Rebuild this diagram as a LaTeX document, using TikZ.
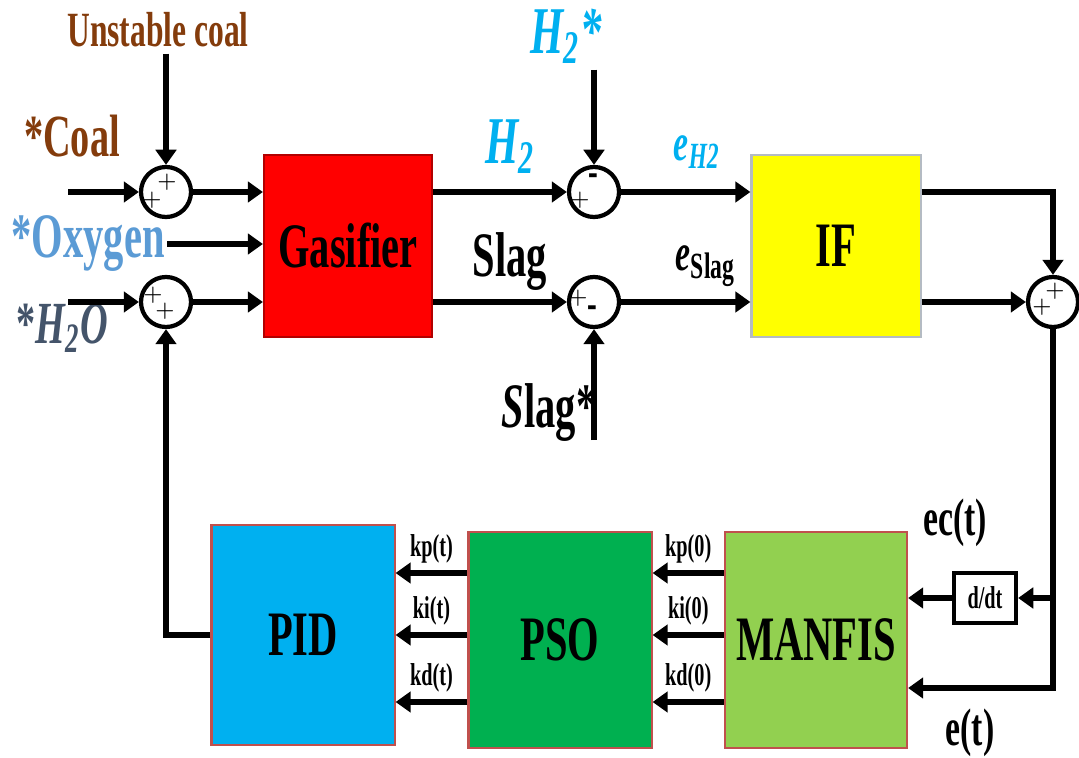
\documentclass[tikz,border=0pt]{standalone}
\usepackage{fontspec}
\setmainfont{Liberation Serif}[FakeStretch=0.64]
\usetikzlibrary{arrows.meta, positioning}
\definecolor{ccoal}{HTML}{843C0C}
\definecolor{coxy}{HTML}{5B9BD5}
\definecolor{cwater}{HTML}{44546A}
\definecolor{chyd}{HTML}{00B0F0}
\definecolor{cred}{HTML}{FF0000}
\definecolor{cyellow}{HTML}{FFFF00}
\definecolor{cpid}{HTML}{00B0F0}
\definecolor{cpso}{HTML}{00B050}
\definecolor{cman}{HTML}{92D050}
\definecolor{cedge}{HTML}{C0504D}
\tikzset{
  every picture/.style={line width=1.6pt},
  block/.style={fill=#1, draw=cedge, line width=0.6pt, inner sep=0pt, font=\fontsize{18}{20}\selectfont\bfseries},
  junc/.style={circle, draw, line width=1.2pt, minimum size=0.5cm, inner sep=0pt},
  sign/.style={inner sep=0pt, font=\fontsize{6.5}{6.5}\selectfont},
  arrow/.style={-{Triangle[length=4.3pt, width=5.8pt]}},
  big/.style={inner sep=1pt, font=\fontsize{18}{20}\selectfont\bfseries},
  klabel/.style={inner sep=2pt, font=\fontsize{9}{10}\selectfont\bfseries},
}
\newcommand{\jsign}[3]{\node[sign] at ([shift={(#1)}]#2.center) {#3};}

\begin{document}
\begin{tikzpicture}[x=0.01cm, y=-0.01cm]
  \useasboundingbox (0,0) rectangle (1079,758);
  \node[block=cred, draw=cred!70!black, minimum width=1.68cm, minimum height=1.82cm] (gas) at (348,246) {Gasifier};
  \node[block=cyellow, draw=cwater!40, minimum width=1.69cm, minimum height=1.82cm] (if) at (836,246) {IF};
  \node[block=cpid, minimum width=1.83cm, minimum height=2.2cm] (pid) at (303,635) {PID};
  \node[block=cpso, minimum width=1.83cm, minimum height=2.15cm] (pso) at (560,640) {PSO};
  \node[block=cman, minimum width=1.82cm, minimum height=2.15cm] (manfis) at (816,640) {MANFIS};
  \node[draw, line width=1.2pt, minimum width=0.62cm, minimum height=0.5cm, inner sep=0pt, font=\fontsize{9}{10}\selectfont\bfseries] (ddt) at (985,598) {d/dt};

  \node[junc] (s1) at (166,192) {};
  \node[junc] (s2) at (166,302) {};
  \node[junc] (s3) at (594,192) {};
  \node[junc] (s4) at (594,302) {};
  \node[junc] (s5) at (1053,302) {};
  \jsign{1,-10}{s1}{$+$} \jsign{-14,8}{s1}{$+$}
  \jsign{-13,-7}{s2}{$+$} \jsign{-1,9}{s2}{$+$}
  \jsign{-1,-12}{s3}{\fontsize{13}{13}\selectfont\bfseries -} \jsign{-14,8}{s3}{$+$}
  \jsign{-16,-4}{s4}{$+$} \jsign{-2,10}{s4}{\fontsize{13}{13}\selectfont\bfseries -}
  \jsign{2,-11}{s5}{$+$} \jsign{-11,5}{s5}{$+$}

  \node[big, font=\fontsize{14}{16}\selectfont\bfseries, text=ccoal] (unst) at (158,30) {Unstable coal};
  \node[big, font=\fontsize{17}{20}\selectfont\bfseries, text=ccoal] at (72,136) {*Coal};
  \node[big, text=coxy, inner sep=0pt] (oxy) at (88,244) {*Oxygen};
  \node[big, font=\fontsize{17}{20}\selectfont\bfseries\itshape, text=cwater] at (62,328) {\upshape*\itshape H\textsubscript{2}O};
  \node[big, font=\fontsize{19}{20}\selectfont\bfseries\itshape, text=chyd] at (510,147) {H\textsubscript{2}};
  \node[big, font=\fontsize{19}{20}\selectfont\bfseries\itshape, text=chyd] (href) at (566,36) {H\textsubscript{2}*};
  \node[big, font=\fontsize{15}{16}\selectfont\bfseries\itshape, text=chyd] at (697,152) {e\textsubscript{H2}};
  \node[big] at (510,262) {Slag};
  \node[big, font=\fontsize{15}{16}\selectfont\bfseries] at (706,266) {\textit{e}\textsubscript{Slag}};
  \node[big] at (549,413) {\textit{S}lag*};
  \node[big, font=\fontsize{15}{16}\selectfont\bfseries] at (955,523) {ec(t)};
  \node[big, font=\fontsize{15}{16}\selectfont\bfseries] at (970,733) {e(t)};

  \coordinate (coalin) at (68,192);
  \coordinate (h2oin) at (68,302);
  \coordinate (slagref) at (594,440);
  \coordinate (ectap) at (1053,598);
  \coordinate (etap) at (1053,688);

  \draw[arrow] (coalin) -- (s1);
  \draw[arrow] (unst.south -| s1) -- (s1);
  \draw[arrow] (s1) -- (s1 -| gas.west);
  \draw[arrow] (oxy.east) -- (oxy.east -| gas.west);
  \draw[arrow] (h2oin) -- (s2);
  \draw[arrow] (s2) -- (s2 -| gas.west);
  \draw[arrow] (pid.west) -| (s2);
  \draw[arrow] (s3 -| gas.east) -- (s3);
  \draw[arrow] (s4 -| gas.east) -- (s4);
  \draw[arrow] (href.south -| s3) -- (s3);
  \draw[arrow] (slagref) -- (s4);
  \draw[arrow] (s3) -- (s3 -| if.west);
  \draw[arrow] (s4) -- (s4 -| if.west);
  \draw[arrow] (if.east |- s3) -| (s5);
  \draw[arrow] (if.east |- s4) -- (s5);
  \draw[arrow] (s5) |- (etap -| manfis.east);
  \draw[arrow] (ectap) -- (ddt);
  \draw[arrow] (ddt) -- (ddt -| manfis.east);

  \foreach \k/\y in {p/573, i/635, d/702}{
    \draw[arrow] (manfis.west |- 0,\y) -- (pso.east |- 0,\y) node[midway, above, klabel] {k\k(0)};
    \draw[arrow] (pso.west |- 0,\y) -- (pid.east |- 0,\y) node[midway, above, klabel] {k\k(t)};
  }
\end{tikzpicture}
\end{document}
